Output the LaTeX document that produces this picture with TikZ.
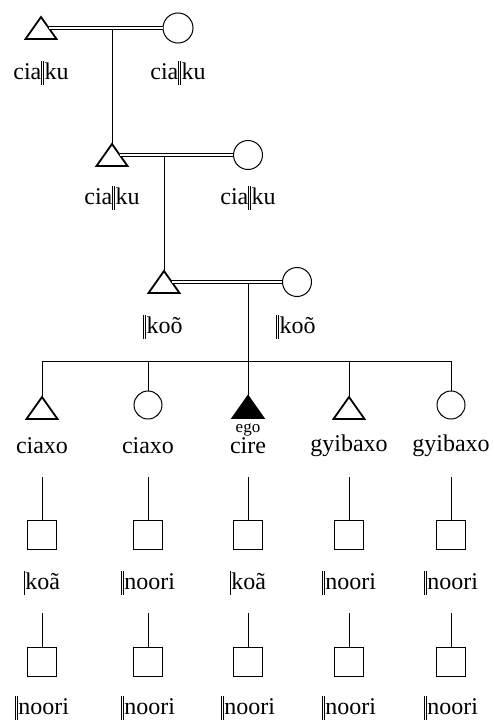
\documentclass[tikz,border=0pt]{standalone}
\usepackage{fontspec}
\setmainfont{Liberation Serif}
\usetikzlibrary{calc}
\newcommand{\dbl}{\rule[-0.2em]{0.55pt}{0.98em}\kern1.3pt\rule[-0.2em]{0.55pt}{0.98em}\kern0.8pt}
\newcommand{\sgl}{\rule[-0.2em]{0.55pt}{0.98em}\kern0.8pt}
\begin{document}
\begin{tikzpicture}[x=1pt,y=-1pt,
  line width=1pt,
  trianglebox/.style={minimum width=30pt,minimum height=21pt,inner sep=0pt,draw=none},
  femalenode/.style={circle,draw,line width=1pt,minimum size=28pt,inner sep=0pt},
  childsq/.style={rectangle,draw,line width=1pt,minimum size=29pt,inner sep=0pt},
  lbl/.style={font=\fontsize{24}{27}\selectfont,inner sep=0pt},
  egolbl/.style={font=\fontsize{17}{19}\selectfont,inner sep=0pt},
  marriage/.style={double,double distance=2.2pt,line width=0.9pt},
  tri/.style={draw,line width=1.8pt,line join=miter}
]
\useasboundingbox (0,0) rectangle (493,720);
% generation 1
\node[trianglebox] (m1) at (41,28) {};
\draw[tri] (m1.south west) -- (m1.south east) -- (m1.north) -- cycle;
\node[femalenode,minimum size=30pt] (f1) at (178,28) {};
\coordinate (m1r) at ($(m1.south east)!0.5!(m1.north)$);
\draw[marriage] (m1r) -- (f1.west);
\node[lbl] (l1a) at (41,73) {cia\dbl ku};
\node[lbl] (l1b) at (178,73) {cia\dbl ku};
% generation 2
\node[trianglebox] (m2) at (112,155) {};
\draw[tri] (m2.south west) -- (m2.south east) -- (m2.north) -- cycle;
\node[femalenode,minimum size=29pt] (f2) at (248,155) {};
\coordinate (m2r) at ($(m2.south east)!0.5!(m2.north)$);
\draw[marriage] (m2r) -- (f2.west);
\coordinate (d1) at (m2.north |- m1r);
\draw (d1) ++(0,1.6) -- (m2.north);
\node[lbl] (l2a) at (112,198) {cia\dbl ku};
\node[lbl] (l2b) at (248,198) {cia\dbl ku};
% generation 3
\node[trianglebox] (m3) at (164,282) {};
\draw[tri] (m3.south west) -- (m3.south east) -- (m3.north) -- cycle;
\node[femalenode,minimum size=29pt] (f3) at (297,282) {};
\coordinate (m3r) at ($(m3.south east)!0.5!(m3.north)$);
\draw[marriage] (m3r) -- (f3.west);
\coordinate (d2) at (m3.north |- m2r);
\draw (d2) ++(0,1.6) -- (m3.north);
\node[lbl] (l3a) at (163,327) {\dbl ko\~o};
\node[lbl] (l3b) at (296,327) {\dbl ko\~o};
% siblings
\coordinate (d3) at (248,283.6);
\coordinate (sl) at (42,361);
\coordinate (sr) at (451,361);
\coordinate (sm) at (248,361);
\draw (d3) -- (sm);
\draw (sl) -- (sr);
\node[trianglebox] (c1) at (42,408) {};
\draw[tri] (c1.south west) -- (c1.south east) -- (c1.north) -- cycle;
\node[femalenode] (c2) at (148,405) {};
\node[trianglebox] (c3) at (248,407) {};
\draw[tri,fill=black] (c3.south west) -- (c3.south east) -- (c3.north) -- cycle;
\node[trianglebox] (c4) at (349,408) {};
\draw[tri] (c4.south west) -- (c4.south east) -- (c4.north) -- cycle;
\node[femalenode] (c5) at (451,405) {};
\foreach \c in {c1,c2,c3,c4,c5} {
  \draw (sl -| \c.north) -- (\c.north);
}
\node[egolbl] (ego) at (248,430) {ego};
\node[lbl] (n1) at (42,446) {ciaxo};
\node[lbl] (n2) at (148,446) {ciaxo};
\node[lbl] (n3) at (248,446) {cire};
\node[lbl] (n4) at (349,446) {gyibaxo};
\node[lbl] (n5) at (451,446) {gyibaxo};
% children rows
\foreach \c/\x/\la/\lb in {1/42/{\sgl ko\~a}/{\dbl noori},2/148/{\dbl noori}/{\dbl noori},3/248/{\sgl ko\~a}/{\dbl noori},4/349/{\dbl noori}/{\dbl noori},5/451/{\dbl noori}/{\dbl noori}} {
  \node[childsq] (a\c) at (\x,534.5) {};
  \coordinate (ta\c) at (\x,477);
  \draw (ta\c) -- (a\c.north);
  \node[lbl] (la\c) at (\x,583) {\la};
  \node[childsq] (b\c) at (\x,662) {};
  \coordinate (tb\c) at (\x,613);
  \draw (tb\c) -- (b\c.north);
  \node[lbl] (lb\c) at (\x,708) {\lb};
}
\end{tikzpicture}
\end{document}
